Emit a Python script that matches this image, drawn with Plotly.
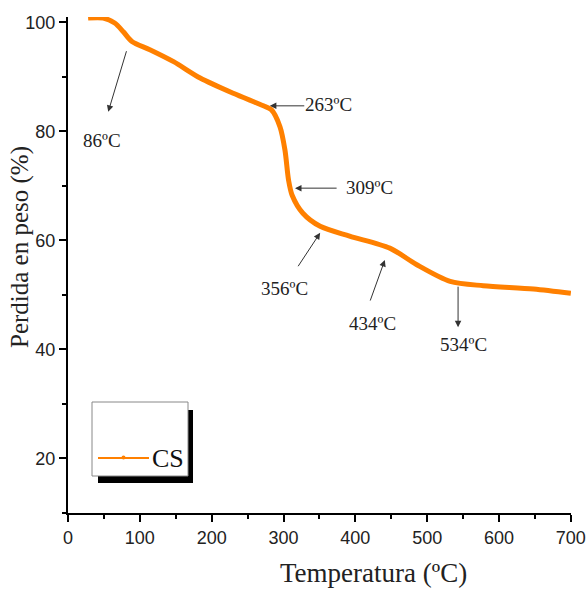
import plotly.graph_objects as go

# TGA curve of the CS sample: temperature (ºC) vs remaining weight (%)
temperatura = [28, 49, 65, 77, 89, 114, 147, 184, 230, 272, 283, 295, 302, 307, 312,
               327, 351, 392, 448, 485, 532, 578, 648, 700]
peso = [100.8, 100.8, 99.9, 98.3, 96.5, 95.0, 92.8, 89.8, 87.0, 84.7, 84.0, 80.9, 76.6,
        71.1, 68.3, 65.0, 62.6, 60.8, 58.6, 55.6, 52.5, 51.7, 51.1, 50.3]

# Event labels: text, label centre (T, W), arrow tail (T, W), arrow head (T, W)
eventos = ["86ºC", "263ºC", "309ºC", "356ºC", "434ºC", "534ºC"]
label_pos = [(47, 78.4), (362, 84.9), (420, 69.8), (302, 51.1), (424, 44.7), (550, 41.0)]
arrow_tail = [(82, 95.0), (331, 84.7), (376, 69.6), (319, 55.0), (420, 48.7), (543, 51.8)]
arrow_head = [(56, 83.6), (281, 84.7), (316, 69.6), (351, 61.4), (441, 56.4), (543, 44.1)]

x_ticks = [0, 100, 200, 300, 400, 500, 600, 700]
y_ticks = [20, 40, 60, 80, 100]

ORANGE = "#FF8000"
SERIF = "Liberation Serif, Times New Roman, serif"
SANS = "Liberation Sans, Arial, sans-serif"

# plot area in pixels (used for paper-coordinate placement of legend/titles)
L, R, T, B = 68, 15, 17, 79
W_PX, H_PX = 586, 592
PW, PH = W_PX - L - R, H_PX - T - B


def px2paper(px, py):
    return (px - L) / PW, (H_PX - B - py) / PH


fig = go.Figure()
fig.add_trace(go.Scatter(
    x=temperatura, y=peso, mode="lines", name="CS",
    line=dict(color=ORANGE, width=5, shape="spline", smoothing=0.8),
    showlegend=False,
))

annotations = []
for txt, (lx, ly), (tx, ty), (hx, hy) in zip(eventos, label_pos, arrow_tail, arrow_head):
    annotations.append(dict(
        x=hx, y=hy, ax=tx, ay=ty, xref="x", yref="y", axref="x", ayref="y",
        text="", showarrow=True, arrowhead=2, arrowsize=1.3, arrowwidth=1,
        arrowcolor="#333333", standoff=0, startstandoff=0,
    ))
    annotations.append(dict(
        x=lx, y=ly, xref="x", yref="y", text=txt, showarrow=False,
        font=dict(family=SERIF, size=19, color="#222222"),
        xanchor="center", yanchor="middle",
    ))

# axis titles
tx_, ty_ = px2paper(373, 573)
annotations.append(dict(
    x=tx_, y=ty_, xref="paper", yref="paper", text="Temperatura (ºC)",
    showarrow=False, font=dict(family=SERIF, size=27, color="#222222"),
    xanchor="center", yanchor="middle",
))
yx_, yy_ = px2paper(20, 247)
annotations.append(dict(
    x=yx_, y=yy_, xref="paper", yref="paper", text="Perdida en peso (%)",
    showarrow=False, textangle=-90, font=dict(family=SERIF, size=25, color="#222222"),
    xanchor="center", yanchor="middle",
))

# legend box with drop shadow
shapes = []
sx0, sy0 = px2paper(98, 483)
sx1, sy1 = px2paper(193, 410)
shapes.append(dict(type="rect", xref="paper", yref="paper", x0=sx0, y0=sy0, x1=sx1, y1=sy1,
                   fillcolor="black", line=dict(width=0)))
bx0, by0 = px2paper(92, 476)
bx1, by1 = px2paper(188, 402)
shapes.append(dict(type="rect", xref="paper", yref="paper", x0=bx0, y0=by0, x1=bx1, y1=by1,
                   fillcolor="white", line=dict(color="#888888", width=1)))
lx0, ly0 = px2paper(98, 458)
lx1, _ = px2paper(149, 458)
shapes.append(dict(type="line", xref="paper", yref="paper", x0=lx0, y0=ly0, x1=lx1, y1=ly0,
                   line=dict(color=ORANGE, width=2)))
dx0, dy0 = px2paper(121.5, 459.5)
dx1, dy1 = px2paper(125.5, 455.5)
shapes.append(dict(type="circle", xref="paper", yref="paper", x0=dx0, y0=dy0, x1=dx1, y1=dy1,
                   fillcolor=ORANGE, line=dict(color=ORANGE, width=0)))
cx, cy = px2paper(168, 458)
annotations.append(dict(
    x=cx, y=cy, xref="paper", yref="paper", text="CS", showarrow=False,
    font=dict(family=SERIF, size=26, color="#111111"), xanchor="center", yanchor="middle",
))

axis_common = dict(
    showline=True, linecolor="black", linewidth=2, mirror=False,
    showgrid=False, zeroline=False,
    ticks="outside", ticklen=7, tickwidth=2, tickcolor="black",
    tickfont=dict(family=SANS, size=18, color="#222222"),
    ticklabeloverflow="allow",
)

fig.update_layout(
    width=W_PX, height=H_PX,
    margin=dict(l=L, r=R, t=T, b=B, pad=0, autoexpand=False),
    paper_bgcolor="white", plot_bgcolor="white",
    xaxis=dict(range=[0, 700.2], tickvals=x_ticks,
               minor=dict(dtick=50, ticklen=4, tickwidth=2, tickcolor="black", ticks="outside"),
               **axis_common),
    yaxis=dict(range=[10, 101], tickvals=y_ticks,
               minor=dict(dtick=10, ticklen=4, tickwidth=2, tickcolor="black", ticks="outside"),
               **axis_common),
    annotations=annotations,
    shapes=shapes,
    showlegend=False,
)

fig.write_html("out.html")
